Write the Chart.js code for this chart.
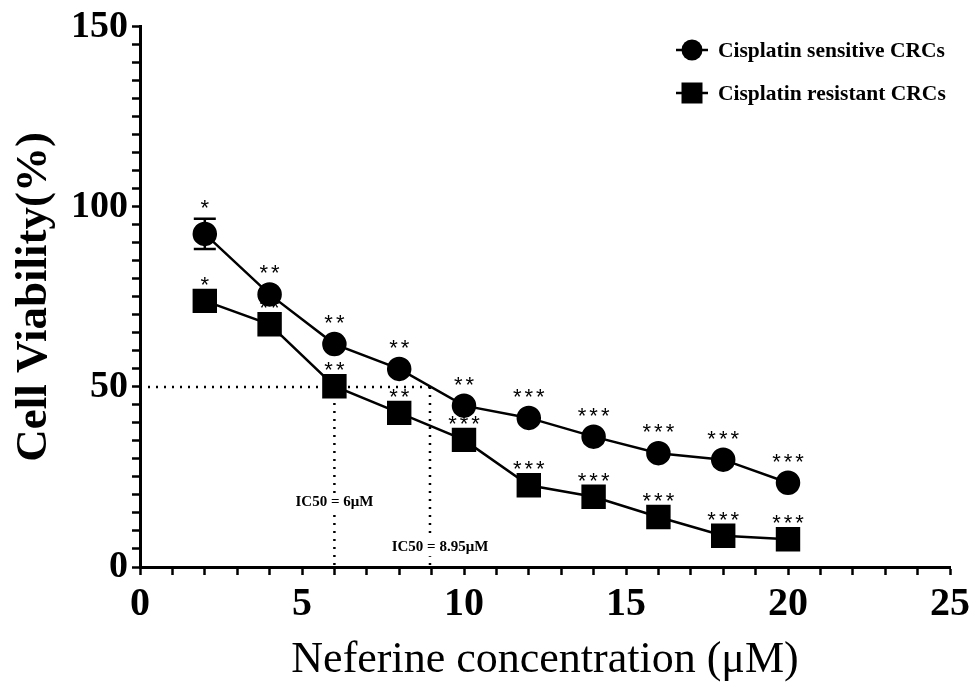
<!DOCTYPE html>
<html>
<head>
<meta charset="utf-8">
<script src="https://cdn.jsdelivr.net/npm/chart.js@4.4.1/dist/chart.umd.min.js"></script>
<style>
  body { margin: 0; background: #fff; }
  #wrap { width: 976px; height: 691px; position: relative; }
</style>
</head>
<body>
<div id="wrap"><canvas id="viabilityChart"></canvas></div>
<script>
// concentrations (uM)
var concArr = [2, 4, 6, 8, 10, 12, 14, 16, 18, 20];

var sensitiveArr = [92.5, 75.7, 61.9, 55.0, 44.8, 41.4, 36.2, 31.6, 29.8, 23.4];
var sensitiveErrArr = [4.2, 0, 0, 0, 0, 0, 0, 0, 0, 0];
var sensitiveStars = ['*', '**', '**', '**', '**', '***', '***', '***', '***', '***'];

var resistantArr = [73.9, 67.4, 50.2, 42.8, 35.3, 22.7, 19.5, 13.9, 8.7, 7.7];
var resistantStars = ['*', '**', '**', '**', '***', '***', '***', '***', '***', '***'];

var ic50Sensitive = 8.95;
var ic50Resistant = 6;
var ic50Level = 50;

var SERIF = '"Liberation Serif", "Times New Roman", serif';

function toPoints(xs, ys) {
    return xs.map(function(x, i) { return {x: x, y: ys[i]}; });
}

function dottedSet(pts) {
    return {
        type: 'line',
        data: pts,
        borderColor: '#000',
        borderWidth: 2.5,
        borderDash: [2, 6],
        pointRadius: 0,
        fill: false,
        order: 5
    };
}

var overlayPlugin = {
    id: 'overlay',
    afterDatasetsDraw: function(chart) {
        var ctx = chart.ctx;
        var xs = chart.scales.x, ys = chart.scales.y;
        ctx.save();

        // error bars
        ctx.strokeStyle = '#000';
        ctx.lineWidth = 2.5;
        concArr.forEach(function(c, i) {
            var e = sensitiveErrArr[i];
            if (!e) return;
            var px = xs.getPixelForValue(c);
            var top = ys.getPixelForValue(sensitiveArr[i] + e);
            var bot = ys.getPixelForValue(sensitiveArr[i] - e);
            ctx.beginPath();
            ctx.moveTo(px, top); ctx.lineTo(px, bot);
            ctx.moveTo(px - 11, top); ctx.lineTo(px + 11, top);
            ctx.moveTo(px - 11, bot); ctx.lineTo(px + 11, bot);
            ctx.stroke();
        });

        // significance stars, placed above the marker (or the error bar cap)
        ctx.fillStyle = '#000';
        ctx.font = '22px "Liberation Sans", Arial, sans-serif';
        ctx.textAlign = 'center';
        ctx.textBaseline = 'middle';
        ctx.letterSpacing = '3px';
        function stars(vals, errs, labels, off) {
            concArr.forEach(function(c, i) {
                var px = xs.getPixelForValue(c);
                var py = ys.getPixelForValue(vals[i]) - off;
                if (errs && errs[i]) {
                    py = Math.min(py, ys.getPixelForValue(vals[i] + errs[i]) - 10);
                }
                ctx.fillText(labels[i], px + 1.5, py);
            });
        }
        stars(sensitiveArr, sensitiveErrArr, sensitiveStars, 20);
        stars(resistantArr, null, resistantStars, 15);
        ctx.letterSpacing = '0px';

        // IC50 labels on white boxes
        ctx.font = 'bold 15px ' + SERIF;
        function ic50Label(txt, px, py) {
            var w = ctx.measureText(txt).width;
            ctx.fillStyle = '#fff';
            ctx.fillRect(px - w / 2 - 2, py - 9, w + 4, 18);
            ctx.fillStyle = '#000';
            ctx.fillText(txt, px, py);
        }
        ic50Label('IC50 = ' + ic50Resistant + 'μM', xs.getPixelForValue(ic50Resistant), ys.getPixelForValue(18));
        ic50Label('IC50 = ' + ic50Sensitive + 'μM', xs.getPixelForValue(ic50Sensitive) + 10, ys.getPixelForValue(5.5));

        // legend
        var lx = 692;
        var rows = [{y: 50, ds: chart.data.datasets[0]}, {y: 93, ds: chart.data.datasets[1]}];
        rows.forEach(function(r) {
            ctx.strokeStyle = '#000';
            ctx.lineWidth = 2.5;
            ctx.beginPath();
            ctx.moveTo(lx - 16, r.y); ctx.lineTo(lx + 16, r.y);
            ctx.stroke();
            ctx.beginPath();
            if (r.ds.pointStyle === 'circle') {
                ctx.arc(lx, r.y, 10.5, 0, Math.PI * 2);
            } else {
                ctx.rect(lx - 10.5, r.y - 10.5, 21, 21);
            }
            ctx.fill();
            ctx.font = 'bold 21.5px ' + SERIF;
            ctx.textAlign = 'left';
            ctx.fillText(r.ds.label, lx + 26, r.y + 1);
        });
        ctx.restore();
    }
};

new Chart('viabilityChart', {
    type: 'line',
    data: {
        datasets: [{
            label: 'Cisplatin sensitive CRCs',
            data: toPoints(concArr, sensitiveArr),
            borderColor: '#000',
            backgroundColor: '#000',
            borderWidth: 2.5,
            pointStyle: 'circle',
            pointRadius: 11,
            pointHoverRadius: 11,
            lineTension: 0,
            order: 1
        }, {
            label: 'Cisplatin resistant CRCs',
            data: toPoints(concArr, resistantArr),
            borderColor: '#000',
            backgroundColor: '#000',
            borderWidth: 2.5,
            pointStyle: 'rect',
            pointRadius: 15.5,
            pointHoverRadius: 15.5,
            lineTension: 0,
            order: 2
        },
        dottedSet([{x: 0, y: ic50Level}, {x: ic50Sensitive, y: ic50Level}]),
        dottedSet([{x: ic50Resistant, y: ic50Level}, {x: ic50Resistant, y: 0}]),
        dottedSet([{x: ic50Sensitive, y: ic50Level}, {x: ic50Sensitive, y: 0}])
        ]
    },
    options: {
        responsive: true,
        maintainAspectRatio: false,
        animation: false,
        layout: {padding: {top: 25, right: 26, left: 0, bottom: 0}},
        plugins: {
            legend: {display: false},
            tooltip: {enabled: false}
        },
        scales: {
            x: {
                type: 'linear',
                min: 0,
                max: 25,
                afterFit: function(s) { s.height = 124; },
                ticks: {
                    stepSize: 1,
                    autoSkip: false,
                    maxRotation: 0,
                    padding: 6,
                    color: '#000',
                    font: {family: SERIF, size: 40, weight: 'bold'},
                    callback: function(v) { return v % 5 === 0 ? v : ''; }
                },
                grid: {drawOnChartArea: false, color: '#000', tickLength: 8, tickWidth: 2.5},
                border: {color: '#000', width: 3},
                title: {
                    display: true,
                    text: 'Neferine concentration (μM)',
                    color: '#000',
                    font: {family: SERIF, size: 44},
                    padding: {top: 4}
                }
            },
            y: {
                min: 0,
                max: 150,
                afterFit: function(s) { s.width = 140; },
                ticks: {
                    stepSize: 5,
                    autoSkip: false,
                    padding: 4,
                    color: '#000',
                    font: {family: SERIF, size: 38, weight: 'bold'},
                    callback: function(v) { return v % 50 === 0 ? v : ''; }
                },
                grid: {drawOnChartArea: false, color: '#000', tickLength: 8, tickWidth: 2.5},
                border: {color: '#000', width: 3},
                title: {
                    display: true,
                    text: 'Cell Viability(%)',
                    color: '#000',
                    font: {family: SERIF, size: 45, weight: 'bold'},
                    padding: {top: 7, bottom: 0}
                }
            }
        }
    },
    plugins: [overlayPlugin]
});
</script>
</body>
</html>
